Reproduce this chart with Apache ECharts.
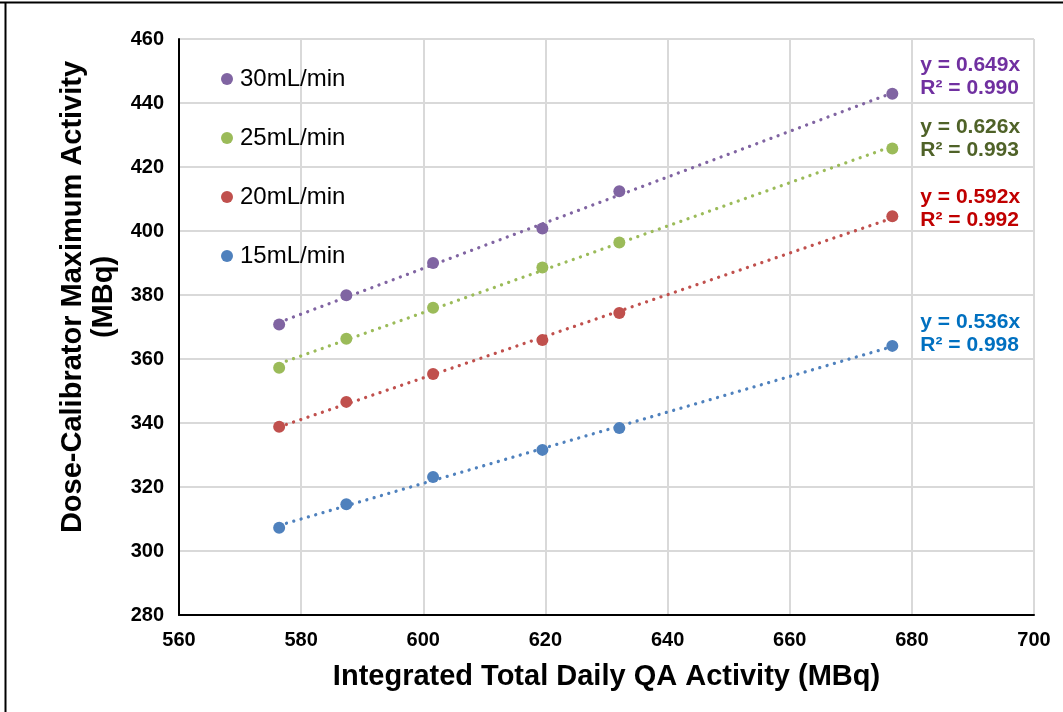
<!DOCTYPE html>
<html>
<head>
<meta charset="utf-8">
<script src="https://cdn.jsdelivr.net/npm/echarts@6/dist/echarts.min.js"></script>
<style>
html,body{margin:0;padding:0;background:#fff;}
#chart{width:1063px;height:712px;}
</style>
</head>
<body>
<div id="chart"></div>
<script>
// ---- data ----
const xValues = [576.4, 587.4, 601.6, 619.5, 632.1, 676.8];
const seriesNames = ['15mL/min', '20mL/min', '25mL/min', '30mL/min'];
const y15 = [307.3, 314.6, 323.1, 331.6, 338.4, 364.1];
const y20 = [338.8, 346.6, 355.3, 365.9, 374.4, 404.6];
const y25 = [357.3, 366.3, 376.0, 388.6, 396.4, 425.8];
const y30 = [370.8, 379.9, 390.0, 400.8, 412.4, 442.9];
const slopes = ['0.536', '0.592', '0.626', '0.649'];
const rSquared = ['0.998', '0.992', '0.993', '0.990'];
const xTicks = [560, 580, 600, 620, 640, 660, 680, 700];
const yTicks = [280, 300, 320, 340, 360, 380, 400, 420, 440, 460];

// ---- style ----
const FONT = '"Liberation Sans", Arial, sans-serif';
const markerColors = ['#4F81BD', '#C0504D', '#9BBB59', '#8064A2'];
const eqColors = ['#0070C0', '#C00000', '#4F6228', '#7030A0'];
const eqOffsets = [-12, -8, -10, -17];

// least-squares trend line through the data
function fit(xs, ys) {
  const n = xs.length;
  const mx = xs.reduce((a, b) => a + b, 0) / n;
  const my = ys.reduce((a, b) => a + b, 0) / n;
  let sxy = 0, sxx = 0;
  for (let i = 0; i < n; i++) { sxy += (xs[i] - mx) * (ys[i] - my); sxx += (xs[i] - mx) * (xs[i] - mx); }
  const b = sxy / sxx;
  return x => my + b * (x - mx);
}

const yData = [y15, y20, y25, y30];
const series = [];
yData.forEach((ys, i) => {
  const f = fit(xValues, ys);
  const x0 = xValues[0], x1 = xValues[xValues.length - 1];
  series.push({
    name: seriesNames[i] + ' trend',
    type: 'line',
    data: [[x0, f(x0)], [x1, f(x1)]],
    showSymbol: false,
    symbol: 'none',
    silent: true,
    z: 2,
    lineStyle: { color: markerColors[i], width: 3.3, type: [0.01, 7.6], cap: 'round', opacity: 1 }
  });
});
yData.forEach((ys, i) => {
  const data = xValues.map((x, k) => {
    const item = { value: [x, ys[k]] };
    if (k === xValues.length - 1) {
      item.label = {
        show: true,
        position: 'right',
        distance: 22,
        offset: [0, eqOffsets[i]],
        align: 'left',
        color: eqColors[i],
        opacity: 1,
        fontFamily: FONT,
        fontWeight: 'bold',
        fontSize: 21,
        lineHeight: 23,
        formatter: 'y = ' + slopes[i] + 'x\nR\u00B2 = ' + rSquared[i]
      };
    }
    return item;
  });
  series.push({
    name: seriesNames[i],
    type: 'scatter',
    data: data,
    symbol: 'circle',
    symbolSize: 12,
    z: 3,
    itemStyle: { color: markerColors[i], opacity: 1 }
  });
});

const chart = echarts.init(document.getElementById('chart'));
chart.setOption({
  animation: false,
  backgroundColor: '#fff',
  grid: { left: 179, right: 29, top: 39, bottom: 97, containLabel: false },
  legend: {
    orient: 'vertical',
    left: 216,
    top: 62,
    itemWidth: 12,
    itemHeight: 12,
    itemGap: 35,
    icon: 'circle',
    data: seriesNames.slice().reverse(),
    textStyle: { fontFamily: FONT, fontSize: 24, lineHeight: 24, color: '#000', padding: [0, 0, 0, 2] }
  },
  xAxis: {
    type: 'value',
    min: xTicks[0],
    max: xTicks[xTicks.length - 1],
    interval: 20,
    name: 'Integrated Total Daily QA Activity (MBq)',
    nameLocation: 'middle',
    nameGap: 47,
    nameTextStyle: { fontFamily: FONT, fontWeight: 'bold', fontSize: 29, color: '#000' },
    axisLine: { show: true, lineStyle: { color: '#000', width: 2 } },
    axisTick: { show: false },
    axisLabel: { margin: 15, fontFamily: FONT, fontWeight: 'bold', fontSize: 20, color: '#000' },
    splitLine: { show: true, lineStyle: { color: '#D9D9D9', width: 2 } }
  },
  yAxis: {
    type: 'value',
    min: yTicks[0],
    max: yTicks[yTicks.length - 1],
    interval: 20,
    axisLine: { show: true, lineStyle: { color: '#000', width: 2 } },
    axisTick: { show: false },
    axisLabel: { margin: 15, fontFamily: FONT, fontWeight: 'bold', fontSize: 20, color: '#000' },
    splitLine: { show: true, lineStyle: { color: '#D9D9D9', width: 2 } }
  },
  graphic: [
    {
      type: 'text',
      x: 88, y: 297,
      rotation: Math.PI / 2,
      style: {
        text: 'Dose-Calibrator Maximum Activity\n(MBq)',
        fontFamily: FONT, fontWeight: 'bold', fontSize: 29, lineHeight: 31,
        fill: '#000', align: 'center', verticalAlign: 'middle'
      }
    },
    { type: 'line', shape: { x1: 0, y1: 2.5, x2: 1063, y2: 2.5 }, style: { stroke: '#000', lineWidth: 2 } },
    { type: 'line', shape: { x1: 5.5, y1: 2, x2: 5.5, y2: 712 }, style: { stroke: '#000', lineWidth: 2 } }
  ],
  series: series
});
</script>
</body>
</html>
